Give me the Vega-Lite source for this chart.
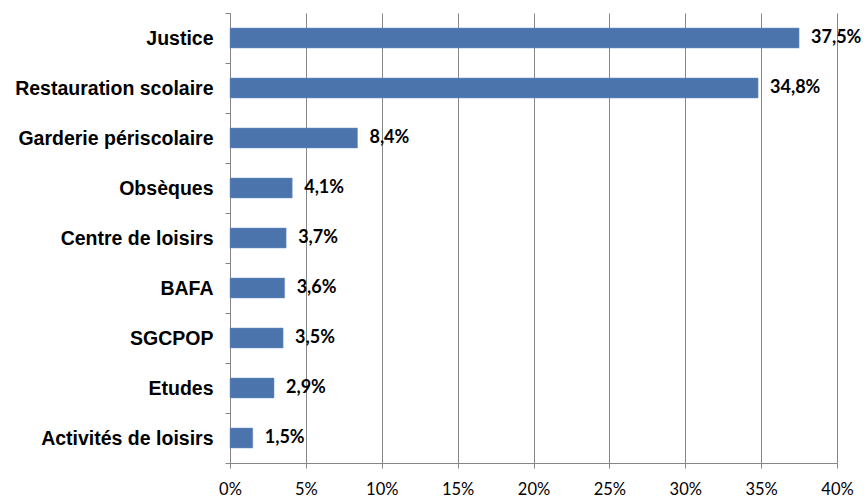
{
  "$schema": "https://vega.github.io/schema/vega-lite/v6.json",
  "width": 607,
  "height": 450,
  "autosize": {"type": "none"},
  "padding": {"left": 230, "top": 13, "right": 30, "bottom": 36},
  "background": "white",
  "config": {
    "locale": {"number": {"decimal": ",", "thousands": " ", "grouping": [3], "currency": ["", " €"]}},
    "view": {"stroke": null}
  },
  "data": {
    "values": [
      {"cat": "Justice", "v": 0.375},
      {"cat": "Restauration scolaire\u00a0", "v": 0.348},
      {"cat": "Garderie périscolaire", "v": 0.084},
      {"cat": "Obsèques", "v": 0.041},
      {"cat": "Centre de loisirs", "v": 0.037},
      {"cat": "BAFA", "v": 0.036},
      {"cat": "SGCPOP", "v": 0.035},
      {"cat": "Etudes", "v": 0.029},
      {"cat": "Activités de loisirs", "v": 0.015}
    ]
  },
  "encoding": {
    "y": {
      "field": "cat", "type": "nominal", "sort": null,
      "scale": {"paddingInner": 0, "paddingOuter": 0},
      "axis": {
        "title": null, "tickBand": "extent", "domainColor": "#868686", "tickColor": "#868686",
        "tickSize": 5, "labelPadding": 12, "labelLimit": 400, "labelFont": "Liberation Sans", "labelFontWeight": "bold",
        "labelFontSize": 19.5, "labelColor": "#000000", "grid": false
      }
    },
    "x": {
      "field": "v", "type": "quantitative",
      "scale": {"domain": [0, 0.4], "nice": false},
      "axis": {
        "title": null, "format": ".0%", "values": [0, 0.05, 0.1, 0.15, 0.2, 0.25, 0.3, 0.35, 0.4],
        "grid": true, "gridColor": "#868686", "gridWidth": 1, "domainColor": "#868686",
        "tickColor": "#868686", "tickSize": 5, "labelPadding": 13, "labelFlush": false, "labelFont": "Lato",
        "labelFontSize": 16.5, "labelColor": "#000000"
      }
    }
  },
  "layer": [
    {"mark": {"type": "bar", "height": {"band": 0.4}, "color": "#4B74AD", "stroke": "#6F90C4", "strokeWidth": 0.5}},
    {
      "mark": {"type": "text", "align": "left", "dx": 12, "font": "Lato", "fontWeight": "bold", "fontSize": 18, "color": "#000000"},
      "encoding": {"text": {"field": "v", "type": "quantitative", "format": ".1%"}}
    }
  ]
}
